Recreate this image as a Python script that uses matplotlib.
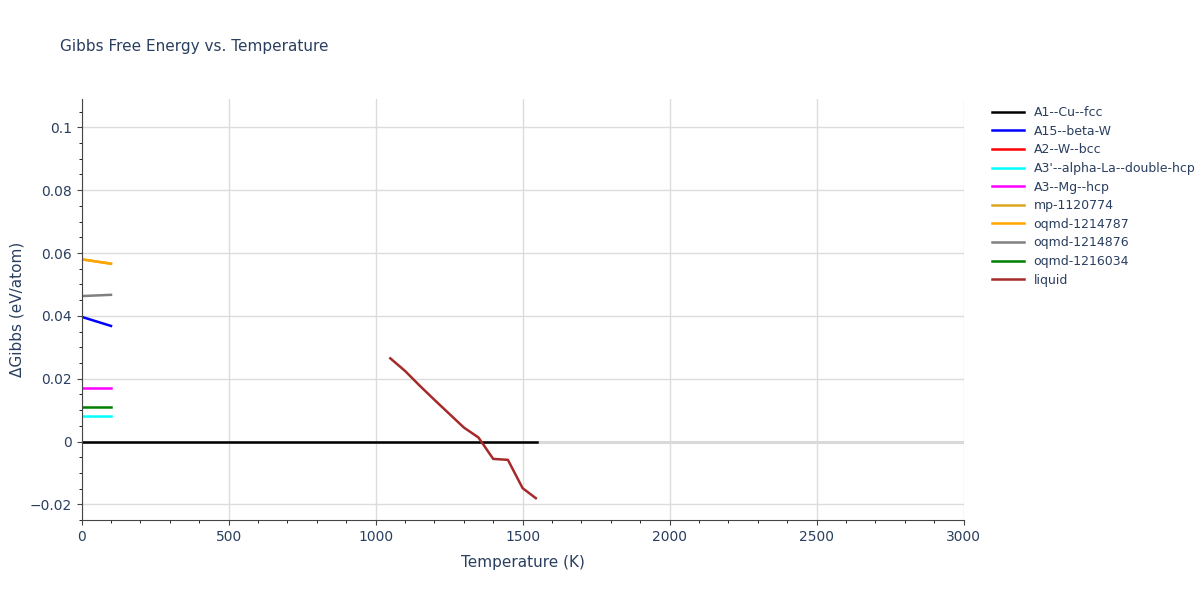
import matplotlib
matplotlib.use("Agg")
import matplotlib.pyplot as plt

names = ["A1--Cu--fcc","A15--beta-W","A2--W--bcc","A3'--alpha-La--double-hcp","A3--Mg--hcp",
         "mp-1120774","oqmd-1214787","oqmd-1214876","oqmd-1216034","liquid"]
colors = ["black","blue","red","cyan","magenta","goldenrod","orange","gray","green","brown"]
T_short = [0, 100]
series = {
    "A1--Cu--fcc": ([0, 1550], [0, 0]),
    "A15--beta-W": (T_short, [0.0397, 0.0368]),
    "A2--W--bcc": ([], []),
    "A3'--alpha-La--double-hcp": (T_short, [0.0083, 0.0083]),
    "A3--Mg--hcp": (T_short, [0.0169, 0.0169]),
    "mp-1120774": (T_short, [0.058, 0.0566]),
    "oqmd-1214787": (T_short, [0.058, 0.0566]),
    "oqmd-1214876": (T_short, [0.0463, 0.0467]),
    "oqmd-1216034": (T_short, [0.0111, 0.0111]),
}
liq_T = [1050,1100,1150,1200,1250,1300,1350,1400,1450,1500,1545]
liq_G = [0.0265,0.0225,0.0178,0.0133,0.0089,0.0045,0.0013,-0.0055,-0.0058,-0.0148,-0.018]
series["liquid"] = (liq_T, liq_G)

fig = plt.figure(figsize=(12, 6), dpi=100)
ax = fig.add_axes([0.068, 0.133, 0.735, 0.702])
ax.axhline(0, color="#d0d0d0", lw=2, zorder=0)
for n, c in zip(names, colors):
    x, y = series[n]
    ax.plot(x, y, color=c, lw=1.8, label=n)
ax.set_xlim(0, 3000)
ax.set_ylim(-0.025, 0.109)
ax.set_xticks(range(0, 3001, 500))
ax.set_yticks([-0.02, 0, 0.02, 0.04, 0.06, 0.08, 0.1])
ax.set_yticklabels(["−0.02", "0", "0.02", "0.04", "0.06", "0.08", "0.1"])
ax.set_xticks(range(0, 3001, 100), minor=True)
ax.set_yticks([i * 0.005 for i in range(-5, 22)], minor=True)
ax.grid(True, which="major", color="#dcdcdc", lw=1)
ax.set_axisbelow(True)
for s in ["top", "right"]:
    ax.spines[s].set_visible(False)
for s in ["left", "bottom"]:
    ax.spines[s].set_color("#444444")
tc = "#2a3f5f"
ax.tick_params(colors="#444444", labelcolor=tc, labelsize=10)
ax.set_xlabel("Temperature (K)", color=tc, fontsize=11, labelpad=8)
ax.set_ylabel("ΔGibbs (eV/atom)", color=tc, fontsize=11)
fig.text(0.05, 0.915, "Gibbs Free Energy vs. Temperature", color=tc, fontsize=11)
ax.legend(loc="upper left", bbox_to_anchor=(1.02, 1.01), frameon=False, fontsize=9,
          labelcolor=tc, handlelength=2.5, labelspacing=0.45)
fig.savefig("out.png")
